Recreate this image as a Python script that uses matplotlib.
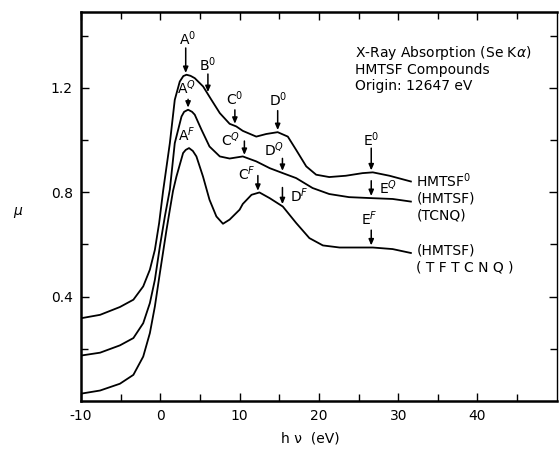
import matplotlib.pyplot as plt
import numpy as np

plt.rcParams['font.family'] = ['DejaVu Sans']
plt.rcParams['mathtext.fontset'] = 'dejavusans'
plt.rcParams['axes.unicode_minus'] = False

# ---- curves (energy in eV, mu) ----
x_hmtsf = [-10, -7.6, -5.1, -3.4, -2.16, -1.32, -0.69, -0.15, 0.35, 1.2, 1.82, 2.45,
           2.9, 3.3, 3.8, 4.34, 5.4, 6.44, 7.5, 8.74, 9.58, 10.4, 12.1, 13.36, 14.8, 16.08,
           17.13, 18.4, 19.65, 21.3, 23.4, 25.5, 26.8, 28.9, 31.6]
mu_hmtsf = [0.317, 0.33, 0.36, 0.388, 0.439, 0.503, 0.579, 0.682, 0.805, 0.988, 1.154, 1.224,
            1.245, 1.25, 1.246, 1.237, 1.205, 1.154, 1.103, 1.062, 1.052, 1.035, 1.013, 1.023,
            1.03, 1.013, 0.962, 0.899, 0.867, 0.858, 0.863, 0.873, 0.876, 0.863, 0.841]

x_tcnq = [-10, -7.6, -5.1, -3.4, -2.16, -1.32, -0.69, -0.06, 0.57, 1.2, 1.82, 2.67,
          3.0, 3.5, 4.0, 4.34, 5.18, 6.2, 7.5, 8.74, 10.4, 12.1, 13.8, 15.45, 17.13, 19.2,
          21.3, 23.8, 26.8, 29.3, 31.6]
mu_tcnq = [0.174, 0.185, 0.213, 0.241, 0.298, 0.375, 0.464, 0.592, 0.707, 0.81, 0.988, 1.09,
           1.108, 1.116, 1.108, 1.097, 1.04, 0.975, 0.937, 0.929, 0.937, 0.918, 0.892, 0.873,
           0.854, 0.816, 0.793, 0.781, 0.777, 0.774, 0.764]

x_tftcnq = [-10, -7.6, -5.1, -3.4, -2.16, -1.32, -0.69, -0.06, 0.78, 1.2, 1.6, 2.03,
            2.87, 3.2, 3.62, 4.1, 4.55, 5.38, 6.2, 7.07, 7.9, 8.74, 10.0, 10.4, 11.5, 12.5,
            13.8, 15.45, 17.13, 18.8, 20.5, 22.6, 26.8, 29.3, 31.6]
mu_tftcnq = [0.028, 0.04, 0.066, 0.10, 0.17, 0.26, 0.362, 0.49, 0.656, 0.733, 0.805, 0.86,
             0.95, 0.962, 0.969, 0.958, 0.937, 0.86, 0.771, 0.707, 0.679, 0.695, 0.733, 0.755,
             0.79, 0.799, 0.777, 0.745, 0.682, 0.624, 0.596, 0.588, 0.588, 0.582, 0.567]

curve_names = ['HMTSF$^0$', '(HMTSF)\n(TCNQ)', '(HMTSF)\n( T F T C N Q )']

# feature labels: (label, curve index, energy)
feat_labels = ['A$^0$', 'B$^0$', 'C$^0$', 'D$^0$', 'E$^0$',
               'A$^Q$', 'C$^Q$', 'D$^Q$', 'E$^Q$',
               'A$^F$', 'C$^F$', 'D$^F$', 'E$^F$']
feat_curve = [0, 0, 0, 0, 0, 1, 1, 1, 1, 2, 2, 2, 2]
feat_x = [3.2, 6.0, 9.4, 14.8, 26.6, 3.5, 10.6, 15.4, 26.6, 3.6, 12.3, 15.4, 26.6]

# arrow length and label centre offset in points (layout only)
arrow_len = [18, 13, 10, 14, 16, 6, 10, 9, 11, 0, 11, 12, 11]
label_off = [(1, 25), (0, 20), (0, 18), (0, 22), (0, 22), (-1.5, 14), (-10, 11), (-6, 15),
             (12, 6), (-1.5, 8), (-8, 12), (12, 6), (-1.5, 19)]

xs = [x_hmtsf, x_tcnq, x_tftcnq]
mus = [mu_hmtsf, mu_tcnq, mu_tftcnq]

fig = plt.figure(figsize=(5.59, 4.49), dpi=100)
ax = fig.add_axes([0.145, 0.107, 0.851, 0.866])

for x, mu, name in zip(xs, mus, curve_names):
    ax.plot(x, mu, color='black', lw=1.3, solid_joinstyle='round')
    ax.annotate(name, xy=(x[-1], mu[-1]), xytext=(4, 7), textcoords='offset points',
                fontsize=10, ha='left', va='top', linespacing=1.25)

for lab, ci, fx, L, off in zip(feat_labels, feat_curve, feat_x, arrow_len, label_off):
    tip_y = np.interp(fx, xs[ci], mus[ci]) + 0.008
    if L > 0:
        ax.annotate('', xy=(fx, tip_y), xytext=(0, L), textcoords='offset points',
                    arrowprops=dict(arrowstyle='-|>,head_length=0.35,head_width=0.15',
                                    color='black', lw=1.1, shrinkA=0, shrinkB=0))
    ax.annotate(lab, xy=(fx, tip_y), xytext=off, textcoords='offset points',
                ha='center', va='center', fontsize=10)

ax.text(0.576, 0.918, 'X-Ray Absorption (Se K$\\alpha$)\nHMTSF Compounds\nOrigin: 12647 eV',
        transform=ax.transAxes, fontsize=10, ha='left', va='top', linespacing=1.12)

ax.set_xlim(-10, 50)
ax.set_ylim(0, 1.49)
ax.set_xticks([-10, 0, 10, 20, 30, 40])
ax.set_xticks(np.arange(-5, 50, 10), minor=True)
ax.set_yticks([0.4, 0.8, 1.2])
ax.set_yticks([0.2, 0.6, 1.0, 1.4], minor=True)
ax.tick_params(which='both', direction='in', top=True, right=True, labelsize=10,
               width=1.0, pad=6)
ax.tick_params(which='major', length=6)
ax.tick_params(which='minor', length=5)
for side in ['left', 'bottom', 'top']:
    ax.spines[side].set_linewidth(1.8)
ax.spines['right'].set_linewidth(1.0)

ax.set_xlabel('h \u03bd  (eV)', fontsize=10, labelpad=6)
ax.xaxis.label.set_x(0.481)
ax.set_ylabel('\u03bc', fontsize=10, rotation=0, labelpad=24, fontstyle='italic')
ax.yaxis.label.set_y(0.47)

fig.savefig('out.png', dpi=100)
